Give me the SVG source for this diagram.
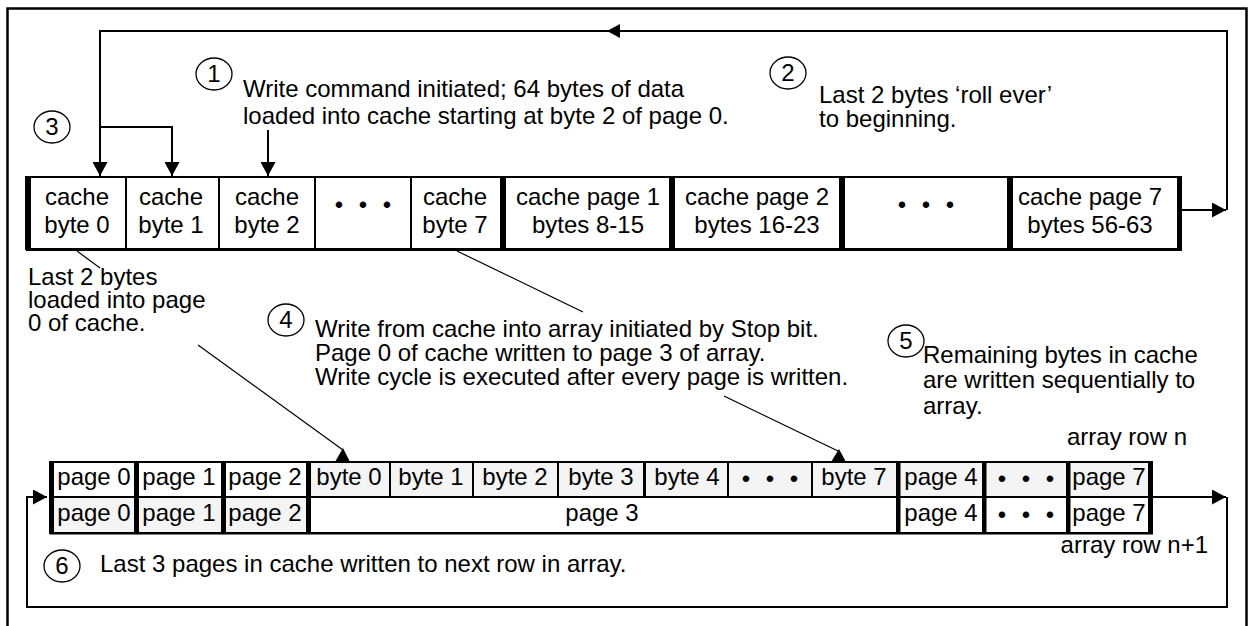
<svg xmlns="http://www.w3.org/2000/svg" width="1249" height="626" viewBox="0 0 1249 626">
<style>
.t{font-family:"Liberation Sans",Arial,Helvetica,sans-serif;font-size:24px;fill:#000}
.m{text-anchor:middle}
.d{word-spacing:9px}
.ln{stroke:#000;stroke-width:2;fill:none}
.thin{stroke:#000;stroke-width:1.2;fill:none}
.circ{fill:none;stroke:#000;stroke-width:1.3}
.cell{stroke:#000;stroke-width:2;fill:#fff}
.g{fill:#f4f4f4}
.bar{fill:#000}
.ah{fill:#000}
</style>
<defs>
<marker id="arr" markerUnits="userSpaceOnUse" markerWidth="15" markerHeight="15" refX="14" refY="7.5" orient="auto">
<path d="M0,0 L14,7.5 L0,15 z" fill="#000"/>
</marker>
</defs>
<rect x="7.5" y="8.5" width="1239" height="700" fill="#fff" stroke="#000" stroke-width="2.5"/>

<g id="connectors">
<polyline class="ln" points="1182,210 1226,210" marker-end="url(#arr)"/>
<polyline class="ln" points="1227,210 1227,31 100,31 100,176" marker-end="url(#arr)"/>
<polygon class="ah" points="607,31 620,24 620,38"/>
<polyline class="ln" points="100,127 172,127 172,176" marker-end="url(#arr)"/>
<line class="ln" x1="268" y1="130" x2="268" y2="176" marker-end="url(#arr)"/>
<polyline class="ln" points="1153,497 1226,497" marker-end="url(#arr)"/>
<polyline class="ln" points="1227,497 1227,607 27,607 27,497 47,497" marker-end="url(#arr)"/>
<line class="thin" x1="77" y1="251" x2="100" y2="268"/>
<line class="thin" x1="457" y1="251" x2="583" y2="312"/>
<line class="thin" x1="198" y1="345" x2="343" y2="450"/>
<polygon class="ah" points="335,462 343,448 350,462"/>
<line class="thin" x1="724" y1="396" x2="838" y2="451"/>
<polygon class="ah" points="831,462 839,449 846,462"/>
</g>

<g id="cache-byte-0"><rect class="cell" x="26" y="177" width="100" height="72"/><rect class="bar" x="25" y="176" width="6" height="74"/><text class="t m" x="77" y="205">cache</text><text class="t m" x="77" y="233">byte 0</text></g>
<g id="cache-byte-1"><rect class="cell" x="126" y="177" width="93" height="72"/><text class="t m" x="171" y="205">cache</text><text class="t m" x="171" y="233">byte 1</text></g>
<g id="cache-byte-2"><rect class="cell" x="219" y="177" width="96" height="72"/><text class="t m" x="267" y="205">cache</text><text class="t m" x="267" y="233">byte 2</text></g>
<g id="cache-dots-1"><rect class="cell" x="315" y="177" width="96" height="72"/><text class="t m d" x="363" y="213">• • •</text></g>
<g id="cache-byte-7"><rect class="cell" x="411" y="177" width="92" height="72"/><text class="t m" x="455" y="205">cache</text><text class="t m" x="455" y="233">byte 7</text></g>
<g id="cache-page-1"><rect class="cell" x="503" y="177" width="169" height="72"/><rect class="bar" x="500" y="176" width="6" height="74"/><text class="t m" x="588" y="205">cache page 1</text><text class="t m" x="588" y="233">bytes 8-15</text></g>
<g id="cache-page-2"><rect class="cell" x="672" y="177" width="170" height="72"/><rect class="bar" x="669" y="176" width="6" height="74"/><text class="t m" x="757" y="205">cache page 2</text><text class="t m" x="757" y="233">bytes 16-23</text></g>
<g id="cache-dots-2"><rect class="cell" x="842" y="177" width="168" height="72"/><rect class="bar" x="839" y="176" width="6" height="74"/><text class="t m d" x="926" y="213">• • •</text></g>
<g id="cache-page-7"><rect class="cell" x="1010" y="177" width="170" height="72"/><rect class="bar" x="1007" y="176" width="6" height="74"/><rect class="bar" x="1177" y="176" width="5" height="75"/><text class="t m" x="1090" y="205">cache page 7</text><text class="t m" x="1090" y="233">bytes 56-63</text></g>
<line x1="26" y1="250" x2="1182" y2="250" stroke="#000" stroke-width="2"/>

<g id="row-n-page-0"><rect class="cell" x="50" y="462" width="85" height="35"/><rect class="bar" x="49.5" y="461" width="4.5" height="37"/><text class="t m" x="94" y="485">page 0</text></g>
<g id="row-n-page-1"><rect class="cell" x="135" y="462" width="87" height="35"/><rect class="bar" x="134.5" y="461" width="4.5" height="37"/><text class="t m" x="179" y="485">page 1</text></g>
<g id="row-n-page-2"><rect class="cell" x="222" y="462" width="85" height="35"/><rect class="bar" x="221.5" y="461" width="4.5" height="37"/><text class="t m" x="265" y="485">page 2</text></g>
<g id="row-n-byte-0"><rect class="cell g" x="307" y="462" width="83" height="35"/><rect class="bar" x="306.5" y="461" width="4.5" height="37"/><text class="t m" x="349" y="485">byte 0</text></g>
<g id="row-n-byte-1"><rect class="cell g" x="390" y="462" width="83" height="35"/><text class="t m" x="431" y="485">byte 1</text></g>
<g id="row-n-byte-2"><rect class="cell g" x="473" y="462" width="85" height="35"/><text class="t m" x="515" y="485">byte 2</text></g>
<g id="row-n-byte-3"><rect class="cell g" x="558" y="462" width="86" height="35"/><text class="t m" x="601" y="485">byte 3</text></g>
<g id="row-n-byte-4"><rect class="cell g" x="644" y="462" width="84" height="35"/><rect class="bar" x="643" y="461" width="3" height="37"/><text class="t m" x="687" y="485">byte 4</text></g>
<g id="row-n-dots"><rect class="cell g" x="728" y="462" width="84" height="35"/><text class="t m d" x="770" y="487">• • •</text></g>
<g id="row-n-byte-7"><rect class="cell g" x="812" y="462" width="85" height="35"/><text class="t m" x="854" y="485">byte 7</text></g>
<g id="row-n-page-4"><rect class="cell g" x="897" y="462" width="86" height="35"/><rect class="bar" x="896" y="461" width="4.5" height="37"/><text class="t m" x="941" y="485">page 4</text></g>
<g id="row-n-dots-2"><rect class="cell g" x="983" y="462" width="84" height="35"/><rect class="bar" x="982" y="461" width="4.5" height="37"/><text class="t m d" x="1026" y="487">• • •</text></g>
<g id="row-n-page-7"><rect class="cell g" x="1067" y="462" width="85" height="35"/><rect class="bar" x="1066" y="461" width="4.5" height="37"/><rect class="bar" x="1148" y="461" width="5" height="37"/><text class="t m" x="1109" y="485">page 7</text></g>

<g id="row-n1-page-0"><rect class="cell g" x="50" y="497" width="85" height="36"/><rect class="bar" x="49.5" y="496" width="4.5" height="38"/><text class="t m" x="94" y="521">page 0</text></g>
<g id="row-n1-page-1"><rect class="cell g" x="135" y="497" width="87" height="36"/><rect class="bar" x="134.5" y="496" width="4.5" height="38"/><text class="t m" x="179" y="521">page 1</text></g>
<g id="row-n1-page-2"><rect class="cell g" x="222" y="497" width="85" height="36"/><rect class="bar" x="221.5" y="496" width="4.5" height="38"/><text class="t m" x="265" y="521">page 2</text></g>
<g id="row-n1-page-3"><rect class="cell" x="307" y="497" width="590" height="36"/><rect class="bar" x="306.5" y="496" width="4.5" height="38"/><text class="t m" x="602" y="521">page 3</text></g>
<g id="row-n1-page-4"><rect class="cell" x="897" y="497" width="86" height="36"/><rect class="bar" x="896" y="496" width="4.5" height="38"/><text class="t m" x="941" y="521">page 4</text></g>
<g id="row-n1-dots"><rect class="cell" x="983" y="497" width="84" height="36"/><rect class="bar" x="982" y="496" width="4.5" height="38"/><text class="t m d" x="1026" y="523">• • •</text></g>
<g id="row-n1-page-7"><rect class="cell" x="1067" y="497" width="85" height="36"/><rect class="bar" x="1066" y="496" width="4.5" height="38"/><rect class="bar" x="1148" y="496" width="5" height="38"/><text class="t m" x="1109" y="521">page 7</text></g>
<line x1="50" y1="533.5" x2="1153" y2="533.5" stroke="#000" stroke-width="2"/>

<g id="note-1"><ellipse class="circ" cx="214" cy="74" rx="18" ry="16"/><text class="t m" x="214" y="82">1</text><text class="t" x="243" y="97">Write command initiated; 64 bytes of data</text><text class="t" x="243" y="124">loaded into cache starting at byte 2 of page 0.</text></g>
<g id="note-2"><ellipse class="circ" cx="788" cy="73" rx="18" ry="16"/><text class="t m" x="788" y="81">2</text><text class="t" x="819" y="103">Last 2 bytes ‘roll ever’</text><text class="t" x="819" y="127">to beginning.</text></g>
<g id="note-3"><ellipse class="circ" cx="52" cy="127" rx="18" ry="16"/><text class="t m" x="52" y="135">3</text><text class="t" x="28" y="285">Last 2 bytes</text><text class="t" x="28" y="308">loaded into page</text><text class="t" x="28" y="331">0 of cache.</text></g>
<g id="note-4"><ellipse class="circ" cx="286" cy="320" rx="18" ry="16"/><text class="t m" x="286" y="328">4</text><text class="t" x="315" y="337">Write from cache into array initiated by Stop bit.</text><text class="t" x="315" y="361">Page 0 of cache written to page 3 of array.</text><text class="t" x="315" y="385">Write cycle is executed after every page is written.</text></g>
<g id="note-5"><ellipse class="circ" cx="906" cy="341" rx="18" ry="16"/><text class="t m" x="906" y="349">5</text><text class="t" x="923" y="363">Remaining bytes in cache</text><text class="t" x="923" y="388">are written sequentially to</text><text class="t" x="923" y="414">array.</text></g>
<g id="note-6"><ellipse class="circ" cx="62" cy="566" rx="18" ry="16"/><text class="t m" x="62" y="574">6</text><text class="t" x="100" y="572">Last 3 pages in cache written to next row in array.</text></g>
<g id="labels"><text class="t" x="1187" y="445" text-anchor="end">array row n</text><text class="t" x="1208" y="553" text-anchor="end">array row n+1</text></g>
</svg>
